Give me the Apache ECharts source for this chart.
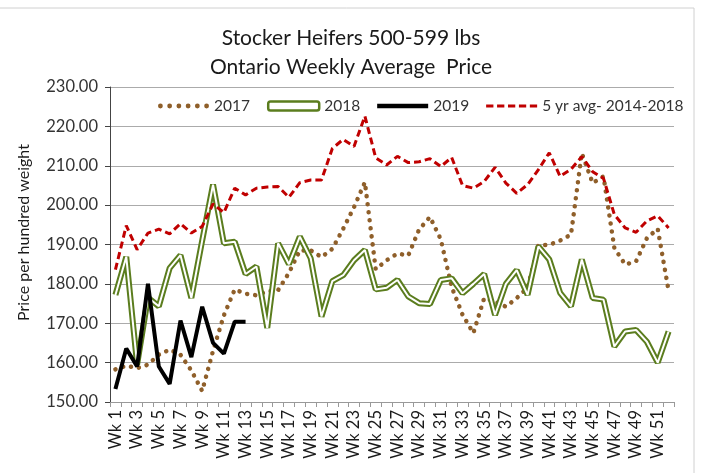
<!DOCTYPE html>
<html>
<head>
<meta charset="utf-8">
<script src="https://cdn.jsdelivr.net/npm/echarts@6/dist/echarts.min.js"></script>
<style>
html,body{margin:0;padding:0;background:#fff;}
#c{width:702px;height:473px;}
</style>
</head>
<body>
<div id="c"></div>
<script>
var weeks = ['Wk 1','Wk 2','Wk 3','Wk 4','Wk 5','Wk 6','Wk 7','Wk 8','Wk 9','Wk 10',
 'Wk 11','Wk 12','Wk 13','Wk 14','Wk 15','Wk 16','Wk 17','Wk 18','Wk 19','Wk 20',
 'Wk 21','Wk 22','Wk 23','Wk 24','Wk 25','Wk 26','Wk 27','Wk 28','Wk 29','Wk 30',
 'Wk 31','Wk 32','Wk 33','Wk 34','Wk 35','Wk 36','Wk 37','Wk 38','Wk 39','Wk 40',
 'Wk 41','Wk 42','Wk 43','Wk 44','Wk 45','Wk 46','Wk 47','Wk 48','Wk 49','Wk 50',
 'Wk 51','Wk 52'];

var y2017 = [158.3,159.2,158.6,159.5,162.0,163.3,162.0,158.0,152.8,163.0,
 172.0,178.6,177.5,177.1,178.1,178.4,182.8,188.5,188.5,186.8,
 188.9,194.0,199.5,205.8,183.7,186.0,187.7,187.2,193.8,197.0,
 191.3,179.2,172.2,167.5,176.4,175.5,174.2,176.4,179.0,189.9,
 189.9,191.0,192.5,213.2,205.6,207.3,189.1,184.9,185.7,191.6,
 194.0,178.3];

var y2018 = [177.2,186.9,159.5,176.5,174.3,184.0,187.3,176.4,191.0,205.2,
 190.3,190.7,182.5,184.4,168.8,190.3,185.0,192.0,186.5,171.7,
 180.7,182.2,186.0,188.6,178.6,179.0,181.0,176.8,175.1,174.9,
 181.0,181.4,177.6,180.0,182.5,172.1,180.0,183.5,177.2,189.5,
 186.2,177.7,174.3,186.2,176.4,176.0,164.1,167.9,168.3,165.3,
 160.0,167.9];

var y2019 = [153.3,163.6,159.0,180.0,159.0,154.6,170.7,161.4,174.2,165.0,
 162.3,170.4,170.4];

var avg5 = [183.6,194.8,188.7,192.9,193.9,192.7,195.3,192.9,194.6,200.3,
 198.1,204.3,202.6,204.3,204.6,204.7,202.0,205.7,206.4,206.4,
 214.4,216.7,214.9,222.6,212.0,210.2,212.4,210.8,211.0,211.8,
 209.8,212.1,205.0,204.3,206.0,209.6,205.6,203.0,205.2,209.0,
 213.3,207.3,209.1,212.3,208.5,206.8,197.6,194.2,193.1,196.0,
 197.3,194.2];

var yTicks = [150,160,170,180,190,200,210,220,230];

var FONT = 'Lato';
var GREEN = '#5b7d1e';
var BROWN = '#8f5f2a';
var RED = '#c00000';

// legend icon shapes
function dotsPath(){
  var p = '';
  for (var i = 0; i < 6; i++) {
    var cx = 2.3 + i * 8.8, cy = 2.3, r = 2.3;
    p += 'M' + (cx - r) + ',' + cy + ' a' + r + ',' + r + ' 0 1,0 ' + (2*r) + ',0 a' + r + ',' + r + ' 0 1,0 ' + (-2*r) + ',0 Z ';
  }
  return 'path://' + p;
}
function dashPath(){
  var p = '';
  for (var i = 0; i < 5; i++) {
    var x = i * 10.5;
    p += 'M' + x + ',0 h7 v3 h-7 Z ';
  }
  return 'path://' + p;
}

var chart = echarts.init(document.getElementById('c'), null, {renderer:'canvas'});
chart.setOption({
  animation:false,
  backgroundColor:'#fff',
  textStyle:{fontFamily:FONT},
  title:{
    text:'Stocker Heifers 500-599 lbs\nOntario Weekly Average  Price',
    left:'center',
    top:19,
    textStyle:{fontFamily:FONT,fontSize:21,fontWeight:'normal',color:'#1a1a1a',lineHeight:29}
  },
  graphic:[{
    type:'rect',
    shape:{x:-2,y:8,width:696,height:480},
    style:{fill:'none',stroke:'#d0d0d0',lineWidth:1},
    silent:true,z:-10
  }],
  legend:{
    left:153,
    top:93,
    width:560,
    itemWidth:51,
    itemHeight:9,
    itemGap:17,
    symbolKeepAspect:true,
    textStyle:{fontFamily:FONT,fontSize:15.5,color:'#333'},
    data:[
      {name:'2017',icon:dotsPath()},
      {name:'2018',icon:'roundRect',itemStyle:{color:'#fff',borderColor:GREEN,borderWidth:2.5}},
      {name:'2019',icon:'path://M0,0 h50 v4.2 h-50 Z'},
      {name:'5 yr avg- 2014-2018',icon:dashPath()}
    ]
  },
  grid:{left:110,right:28,top:87,bottom:71,containLabel:false},
  xAxis:{
    type:'category',
    data:weeks,
    boundaryGap:true,
    axisLine:{lineStyle:{color:'#999',width:1}},
    axisTick:{show:true,interval:0,length:5,lineStyle:{color:'#999'}},
    axisLabel:{interval:1,rotate:90,fontFamily:FONT,fontSize:16.5,color:'#1a1a1a',margin:8},
    splitLine:{show:false}
  },
  yAxis:{
    type:'value',
    min:yTicks[0],
    max:yTicks[yTicks.length-1],
    interval:10,
    name:'Price per hundred weight',
    nameLocation:'middle',
    nameRotate:90,
    nameGap:78,
    nameTextStyle:{fontFamily:FONT,fontSize:16,color:'#1a1a1a',fontWeight:'normal',padding:[0,0,0,24]},
    axisLine:{show:true,lineStyle:{color:'#444',width:1}},
    axisTick:{show:true,length:5,lineStyle:{color:'#444'}},
    axisLabel:{fontFamily:FONT,fontSize:16.5,color:'#333',margin:12,
      formatter:function(v){return v.toFixed(2);}},
    splitLine:{show:true,lineStyle:{color:'#ababab',width:1}}
  },
  series:[
    {
      name:'2017',type:'line',data:y2017,symbol:'none',
      lineStyle:{color:BROWN,width:4.5,type:[0.1,8],cap:'round'},
      itemStyle:{color:BROWN},z:2
    },
    {
      name:'2018',type:'line',data:y2018,symbol:'none',
      lineStyle:{color:GREEN,width:6},itemStyle:{color:GREEN},z:3
    },
    {
      name:'2018w',type:'line',data:y2018,symbol:'none',
      lineStyle:{color:'#fff',width:2},itemStyle:{color:'#fff'},z:4,silent:true
    },
    {
      name:'2019',type:'line',data:y2019,symbol:'none',
      lineStyle:{color:'#000',width:4},itemStyle:{color:'#000'},z:5
    },
    {
      name:'5 yr avg- 2014-2018',type:'line',data:avg5,symbol:'none',
      lineStyle:{color:RED,width:3,type:[7,4]},itemStyle:{color:RED},z:6
    }
  ]
});
</script>
</body>
</html>
